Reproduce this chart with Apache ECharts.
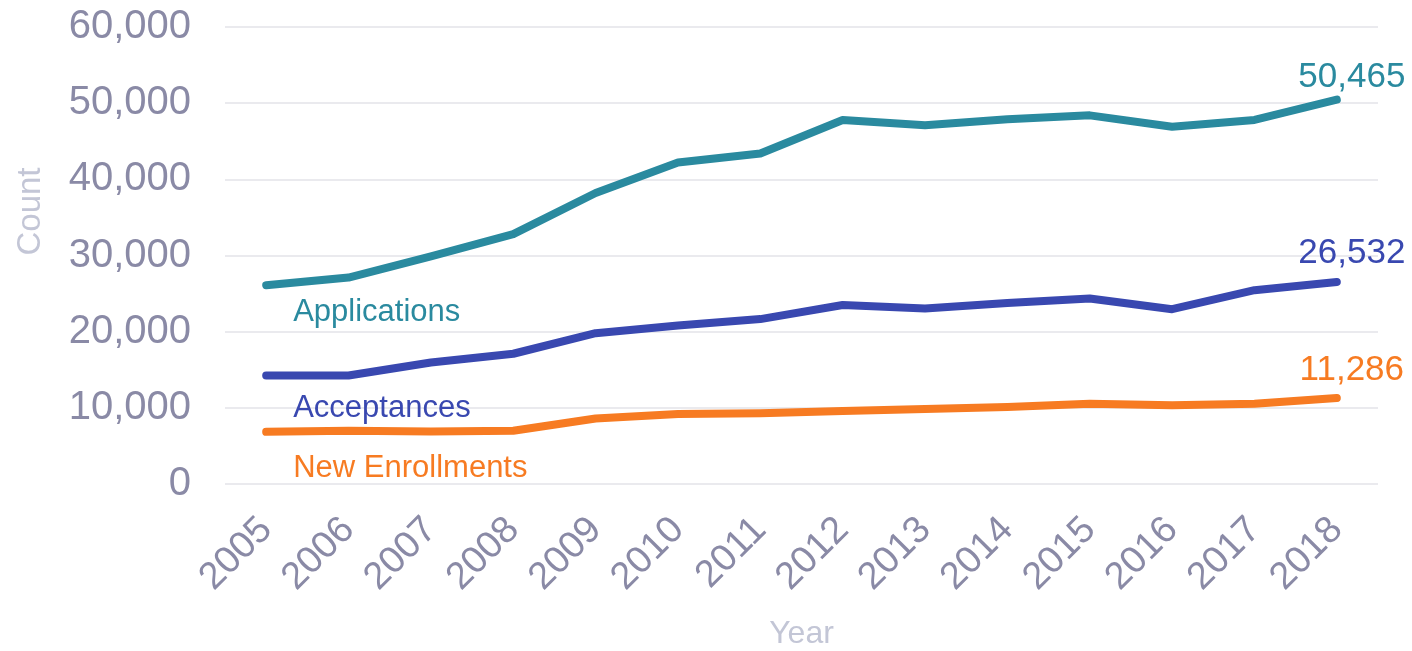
<!DOCTYPE html>
<html>
<head>
<meta charset="utf-8">
<script src="https://cdn.jsdelivr.net/npm/echarts@6/dist/echarts.min.js"></script>
<style>html,body{margin:0;padding:0;background:#fff}#c{width:1412px;height:651px}</style>
</head>
<body>
<div id="c"></div>
<script>
const years = ['2005','2006','2007','2008','2009','2010','2011','2012','2013','2014','2015','2016','2017','2018'];
const applications = [26100, 27100, 29900, 32800, 38200, 42200, 43400, 47800, 47100, 47900, 48400, 46900, 47800, 50465];
const acceptances  = [14250, 14250, 15950, 17100, 19800, 20800, 21650, 23500, 23050, 23750, 24350, 22950, 25450, 26532];
const enrollments  = [6850, 7000, 6900, 7000, 8600, 9200, 9300, 9600, 9850, 10100, 10550, 10350, 10550, 11286];
const seriesNames = ['Applications', 'Acceptances', 'New Enrollments'];
const colors = ['#2a8a9f', '#3948b0', '#f77b22'];
const font = 'Liberation Sans, Arial, sans-serif';

function buildData(vals, name, color, nameOffset, endOffset) {
  return vals.map((v, i) => {
    if (i === 0) {
      return { value: v, label: { show: true, position: 'bottom', align: 'left', distance: 5, offset: nameOffset,
        formatter: name, color: color, fontSize: 31, fontFamily: font } };
    }
    if (i === vals.length - 1) {
      return { value: v, label: { show: true, position: 'top', distance: 5, offset: endOffset,
        formatter: v.toLocaleString('en-US'), color: color, fontSize: 35, fontFamily: font } };
    }
    return v;
  });
}

const chart = echarts.init(document.getElementById('c'));
const data = [applications, acceptances, enrollments];
const nameOffsets = [[27, 6], [27, 12], [27, 16]];
const endOffsets = [[15, 1], [15, -6], [15, -5]];
chart.setOption({
  animation: false,
  grid: { left: 225, right: 34, top: 27, bottom: 167, containLabel: false, outerBoundsMode: 'none' },
  xAxis: {
    type: 'category', data: years, boundaryGap: true,
    axisLine: { show: false }, axisTick: { show: false },
    axisLabel: { rotate: 45, fontSize: 38, color: '#8a8aa6', fontFamily: font, margin: 40 },
    name: 'Year', nameLocation: 'middle', nameGap: 134,
    nameTextStyle: { fontSize: 32, color: '#c3c6d6', fontFamily: font }
  },
  yAxis: {
    type: 'value', min: 0, max: 60000, interval: 10000,
    axisLine: { show: false }, axisTick: { show: false },
    splitLine: { lineStyle: { color: '#e3e3e8', width: 1.5 } },
    axisLabel: { fontSize: 40, color: '#8a8aa6', fontFamily: font, margin: 34,
      formatter: v => v.toLocaleString('en-US') },
    name: 'Count', nameLocation: 'middle', nameGap: 178, nameRotate: 90,
    nameTextStyle: { fontSize: 33, color: '#c3c6d6', fontFamily: font, padding: [0, 0, 0, 88] }
  },
  series: data.map((d, k) => ({
    type: 'line', name: seriesNames[k], data: buildData(d, seriesNames[k], colors[k], nameOffsets[k], endOffsets[k]),
    showSymbol: true, symbol: 'circle', symbolSize: 1,
    lineStyle: { color: colors[k], width: 8, cap: 'round', join: 'round' },
    itemStyle: { color: colors[k] },
    label: { show: false }
  }))
});
</script>
</body>
</html>
